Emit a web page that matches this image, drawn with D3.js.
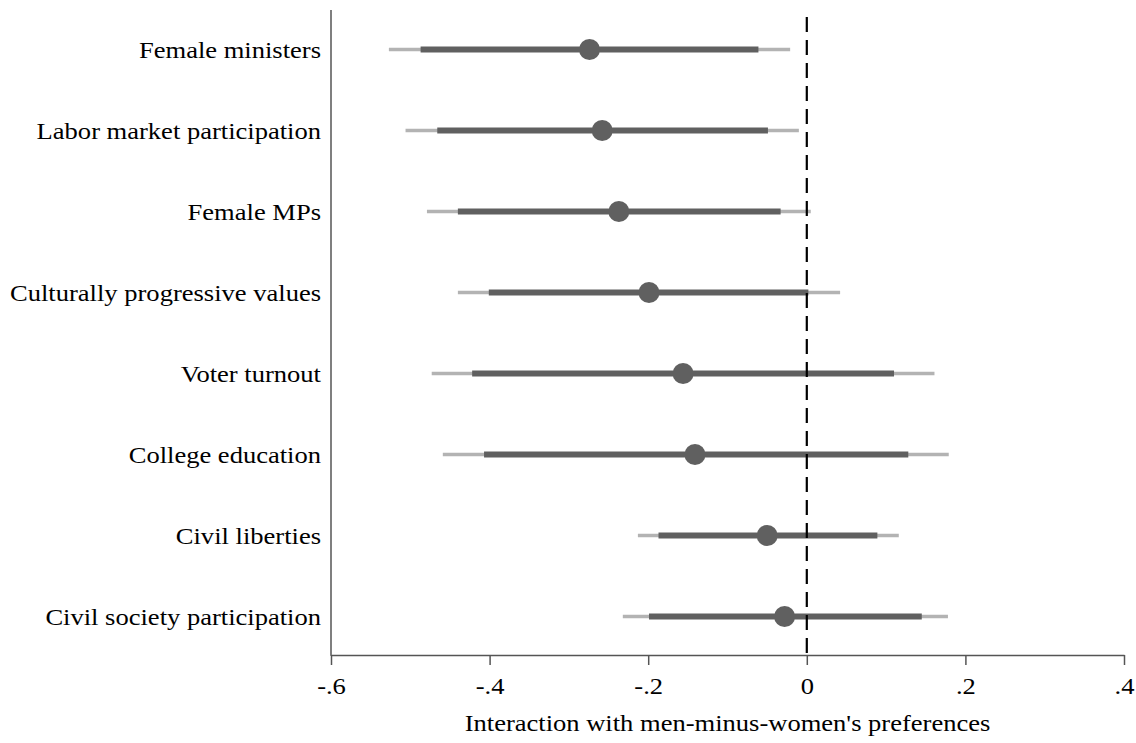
<!DOCTYPE html>
<html lang="en">
  <head>
    <meta charset="UTF-8" />
    <title>Coefficient plot</title>
    <script src="https://d3js.org/d3.v7.min.js"></script>
    <style>
      body { margin: 0; background: #fff; }
      text { font-family: "Liberation Serif", "Times New Roman", serif; fill: #000; }
    </style>
  </head>
  <body>
    <svg id="chart" width="1136" height="743"></svg>
    <script>
      const categories = [
        "Female ministers",
        "Labor market participation",
        "Female MPs",
        "Culturally progressive values",
        "Voter turnout",
        "College education",
        "Civil liberties",
        "Civil society participation",
      ];
      const estimates = [-0.274, -0.258, -0.237, -0.199, -0.156, -0.141, -0.05, -0.028];
      const ci95Lo = [-0.527, -0.506, -0.479, -0.44, -0.473, -0.459, -0.213, -0.232];
      const ci95Hi = [-0.021, -0.01, 0.005, 0.042, 0.161, 0.179, 0.116, 0.178];
      const ci90Lo = [-0.487, -0.466, -0.44, -0.401, -0.422, -0.407, -0.187, -0.199];
      const ci90Hi = [-0.061, -0.049, -0.033, 0.002, 0.11, 0.128, 0.089, 0.145];
      const xTicks = [-0.6, -0.4, -0.2, 0, 0.2, 0.4];
      const xTickLabels = ["-.6", "-.4", "-.2", "0", ".2", ".4"];
      const xLabel = "Interaction with men-minus-women's preferences";

      const rows = categories.map((c, i) => ({
        name: c,
        est: estimates[i],
        lo95: ci95Lo[i],
        hi95: ci95Hi[i],
        lo90: ci90Lo[i],
        hi90: ci90Hi[i],
      }));

      const svg = d3.select("#chart");
      const margin = { left: 331, right: 1124, top: 10, bottom: 655 };
      const fontSize = "22.5px";
      const stretch = 1.18; // the original type is a little wide

      const x = d3.scaleLinear().domain([-0.6, 0.4]).range([margin.left, margin.right]);
      const y = d3.scalePoint().domain(categories).range([9, 657]).padding(0.5);

      // x axis
      const xAxis = svg
        .append("g")
        .attr("transform", `translate(0,${margin.bottom})`)
        .call(
          d3.axisBottom(x)
            .tickValues(xTicks)
            .tickFormat((d, i) => xTickLabels[i])
            .tickSize(10).tickSizeOuter(0).tickPadding(13)
        );
      xAxis.select(".domain").attr("stroke", "#555").attr("stroke-width", 1.5);
      xAxis.selectAll(".tick line").attr("stroke", "#555").attr("stroke-width", 1.5);
      xAxis
        .selectAll(".tick text")
        .attr("fill", "#000")
        .style("font-size", fontSize)
        .style("font-family", '"Liberation Serif", serif')
        .attr("transform", `scale(${stretch},1)`);

      // y axis line
      svg.append("line")
        .attr("x1", margin.left).attr("x2", margin.left)
        .attr("y1", margin.top).attr("y2", margin.bottom + 0.75)
        .attr("stroke", "#555").attr("stroke-width", 1.5);

      // category labels
      svg.selectAll(".cat")
        .data(rows)
        .enter()
        .append("text")
        .attr("class", "cat")
        .attr("transform", (d) => `translate(${margin.left - 10},${y(d.name)}) scale(${stretch},1)`)
        .attr("dy", "0.37em")
        .attr("text-anchor", "end")
        .style("font-size", fontSize)
        .text((d) => d.name);

      // 95% intervals
      svg.selectAll(".ci95")
        .data(rows)
        .enter()
        .append("line")
        .attr("x1", (d) => x(d.lo95)).attr("x2", (d) => x(d.hi95))
        .attr("y1", (d) => y(d.name)).attr("y2", (d) => y(d.name))
        .attr("stroke", "#b3b3b3").attr("stroke-width", 3.5);

      // 90% intervals
      svg.selectAll(".ci90")
        .data(rows)
        .enter()
        .append("line")
        .attr("x1", (d) => x(d.lo90)).attr("x2", (d) => x(d.hi90))
        .attr("y1", (d) => y(d.name)).attr("y2", (d) => y(d.name))
        .attr("stroke", "#606060").attr("stroke-width", 6);

      // point estimates
      svg.selectAll(".pt")
        .data(rows)
        .enter()
        .append("circle")
        .attr("cx", (d) => x(d.est))
        .attr("cy", (d) => y(d.name))
        .attr("r", 10.5)
        .attr("fill", "#606060");

      // zero reference
      svg.append("line")
        .attr("x1", x(0)).attr("x2", x(0))
        .attr("y1", 17).attr("y2", margin.bottom)
        .attr("stroke", "#000").attr("stroke-width", 2.2)
        .attr("stroke-dasharray", "15,8");

      // x title
      svg.append("text")
        .attr("transform", `translate(${(margin.left + margin.right) / 2},731) scale(${stretch},1)`)
        .attr("text-anchor", "middle")
        .style("font-size", fontSize)
        .text(xLabel);
    </script>
  </body>
</html>
